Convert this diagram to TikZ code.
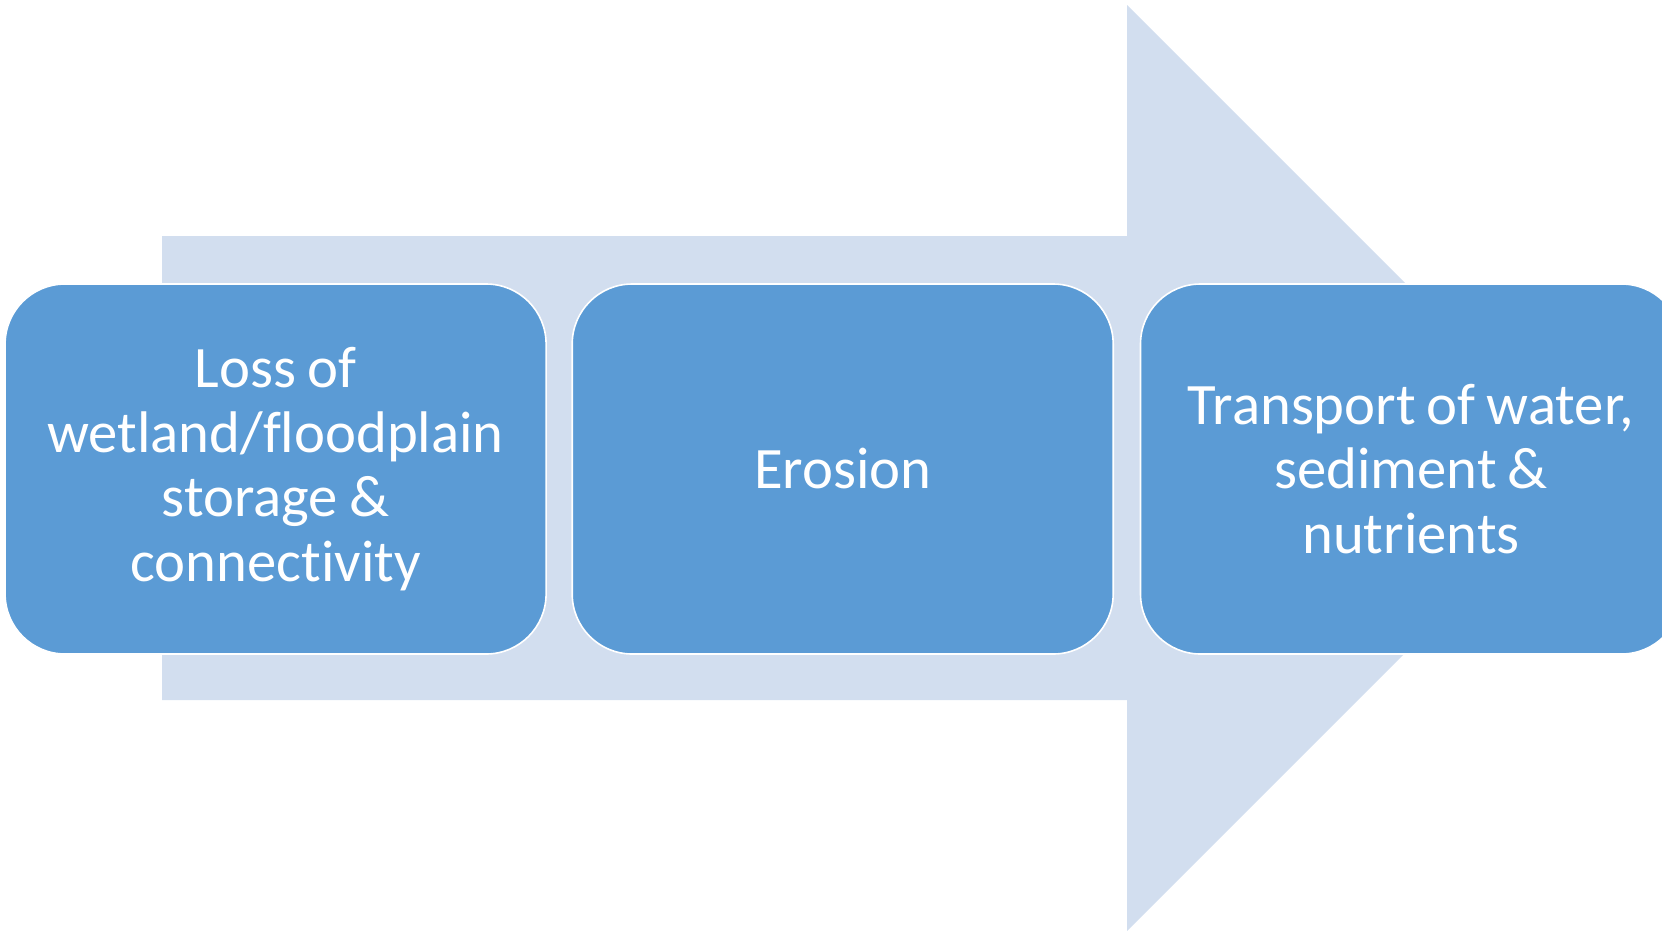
\documentclass[tikz,border=0pt]{standalone}
\usepackage{fontspec}
\setmainfont{Carlito}[Ligatures={NoCommon}]
\definecolor{arrowfill}{HTML}{D2DEEF}
\definecolor{boxfill}{HTML}{5B9BD5}
\newcommand\stagefont{\fontsize{58.7}{64.7}\selectfont}
\begin{document}
\begin{tikzpicture}[x=1pt,y=-1pt,
  stage/.style={draw=white,line width=1.6pt,fill=boxfill,rounded corners=60pt,
    minimum width=541pt,minimum height=370pt,text width=520pt,align=center,
    text=white,inner sep=0pt,font=\stagefont,
    execute at begin node={\spaceskip=0.19em\relax}}]
  \useasboundingbox (0,0) rectangle (1662,930);
  \clip (0,0) rectangle (1662,930);
  % background block arrow
  \fill[arrowfill] (162,236) -- (1127,236) -- (1127,5) -- (1590,468)
    -- (1127,931) -- (1127,700) -- (162,700) -- cycle;
  % process stages
  \node[stage] (s1) at (275.6,469) {Loss of\\wetland/floodplain\\storage \&\\connectivity};
  \node[stage] (s2) at (842.7,469) {Erosion};
  \node[stage] (s3) at (1411,469) {Transport of water,\\sediment \&\\nutrients};
\end{tikzpicture}
\end{document}
